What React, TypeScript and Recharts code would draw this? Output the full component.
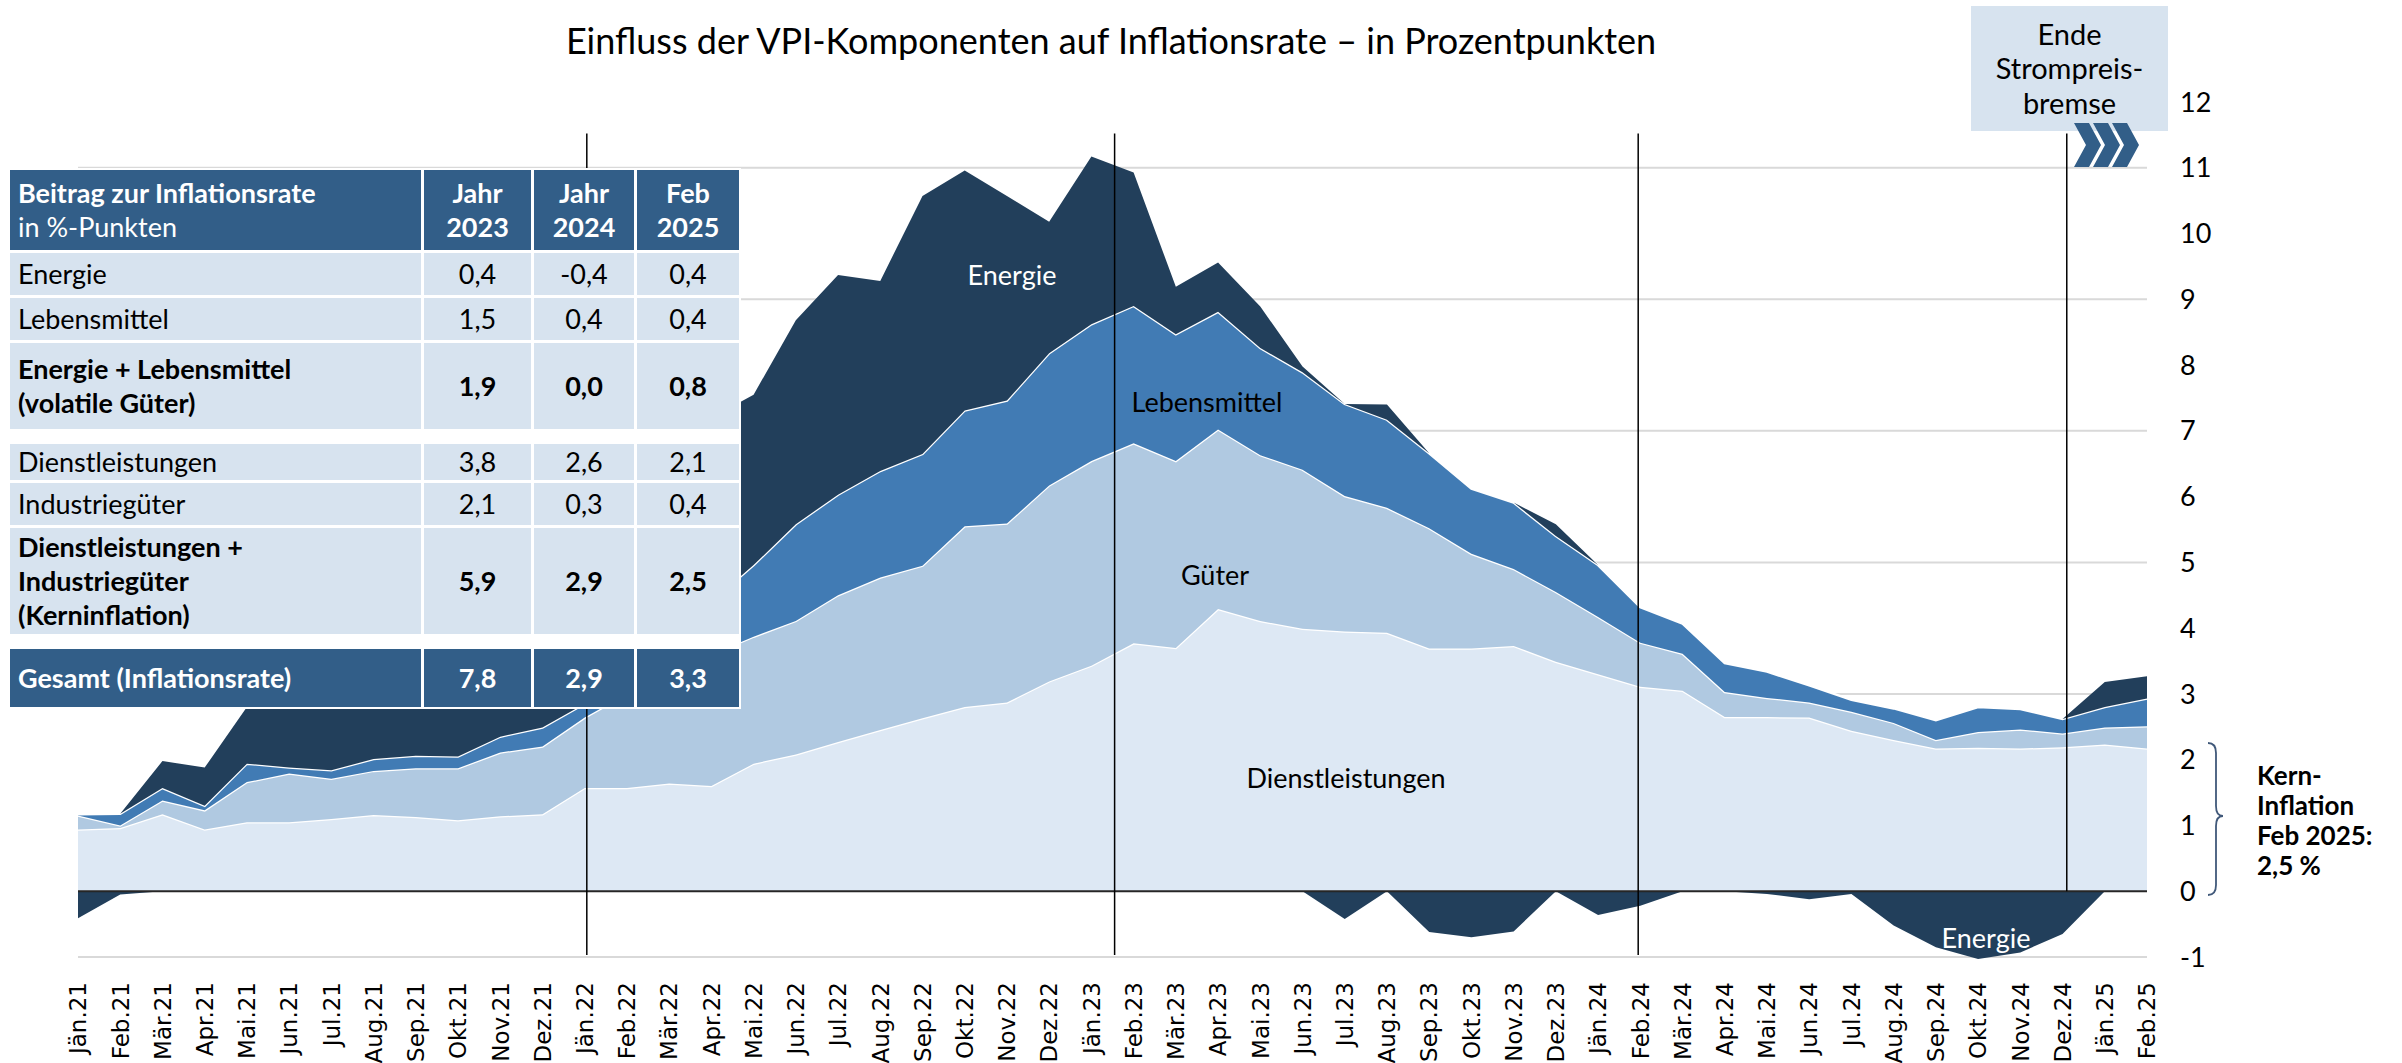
import { AreaChart, Area, XAxis, YAxis, CartesianGrid, ReferenceLine } from 'recharts'

// Beiträge der VPI-Komponenten zur Inflationsrate (Prozentpunkte), Jän.21 – Feb.25

const months = [
  'Jän.21', 'Feb.21', 'Mär.21', 'Apr.21', 'Mai.21', 'Jun.21', 'Jul.21', 'Aug.21', 'Sep.21', 'Okt.21', 'Nov.21', 'Dez.21',
  'Jän.22', 'Feb.22', 'Mär.22', 'Apr.22', 'Mai.22', 'Jun.22', 'Jul.22', 'Aug.22', 'Sep.22', 'Okt.22', 'Nov.22', 'Dez.22',
  'Jän.23', 'Feb.23', 'Mär.23', 'Apr.23', 'Mai.23', 'Jun.23', 'Jul.23', 'Aug.23', 'Sep.23', 'Okt.23', 'Nov.23', 'Dez.23',
  'Jän.24', 'Feb.24', 'Mär.24', 'Apr.24', 'Mai.24', 'Jun.24', 'Jul.24', 'Aug.24', 'Sep.24', 'Okt.24', 'Nov.24', 'Dez.24',
  'Jän.25', 'Feb.25',
]

const dienstleistungen = [
  0.94, 0.96, 1.17, 0.94, 1.05, 1.05, 1.1, 1.16, 1.13, 1.08, 1.14, 1.17,
  1.57, 1.57, 1.64, 1.6, 1.94, 2.08, 2.27, 2.45, 2.63, 2.8, 2.87, 3.19,
  3.43, 3.77, 3.7, 4.29, 4.11, 3.99, 3.95, 3.93, 3.69, 3.69, 3.73, 3.49,
  3.3, 3.11, 3.05, 2.65, 2.65, 2.64, 2.44, 2.3, 2.17, 2.18, 2.17, 2.19,
  2.23, 2.17,
]

const gueter = [
  0.21, 0.04, 0.21, 0.29, 0.61, 0.74, 0.61, 0.67, 0.74, 0.79, 0.97, 1.03,
  1.07, 1.43, 1.71, 2.0, 1.93, 2.03, 2.23, 2.32, 2.32, 2.75, 2.72, 2.98,
  3.11, 3.04, 2.84, 2.73, 2.52, 2.42, 2.06, 1.9, 1.83, 1.44, 1.17, 1.06,
  0.87, 0.67, 0.56, 0.38, 0.29, 0.23, 0.29, 0.26, 0.13, 0.24, 0.29, 0.21,
  0.26, 0.34,
]

const lebensmittel = [
  0.02, 0.18, 0.19, 0.07, 0.28, 0.09, 0.13, 0.18, 0.19, 0.18, 0.24, 0.29,
  0.21, 0.3, 0.55, 0.8, 1.09, 1.47, 1.53, 1.62, 1.7, 1.76, 1.87, 2.01,
  2.08, 2.09, 1.93, 1.79, 1.63, 1.48, 1.4, 1.34, 1.14, 0.99, 1.01, 0.85,
  0.79, 0.54, 0.46, 0.44, 0.4, 0.26, 0.18, 0.22, 0.3, 0.38, 0.31, 0.22,
  0.31, 0.42,
]

const energie = [
  -0.41, -0.05, 0.41, 0.58, 0.86, 0.92, 1.06, 1.19, 1.24, 1.65, 1.95, 1.81,
  2.15, 2.5, 2.9, 2.8, 2.59, 3.1, 3.34, 2.89, 3.92, 3.65, 3.11, 2.0,
  2.55, 2.03, 0.72, 0.75, 0.63, 0.09, -0.42, 0.23, -0.62, -0.7, -0.61, 0.18,
  -0.36, -0.22, 0.0, 0.0, -0.04, -0.12, -0.04, -0.52, -0.85, -1.03, -0.93, -0.65,
  0.38, 0.34,
]

const yTicks = [-1, 0, 1, 2, 3, 4, 5, 6, 7, 8, 9, 10, 11, 12]
const gridValues = [-1, 1, 3, 5, 7, 9, 11]
// senkrechte Markierungen (Monatsindex)
const markers = [12.05, 24.55, 36.95]
const strompreisMarker = 47.1

// Tabelle
const tableHeader = [['Jahr', '2023'], ['Jahr', '2024'], ['Feb', '2025']]
const rowLabels = [
  ['Energie'],
  ['Lebensmittel'],
  ['Energie + Lebensmittel', '(volatile Güter)'],
  ['Dienstleistungen'],
  ['Industriegüter'],
  ['Dienstleistungen +', 'Industriegüter', '(Kerninflation)'],
  ['Gesamt (Inflationsrate)'],
]
const jahr2023 = ['0,4', '1,5', '1,9', '3,8', '2,1', '5,9', '7,8']
const jahr2024 = ['-0,4', '0,4', '0,0', '2,6', '0,3', '2,9', '2,9']
const feb2025 = ['0,4', '0,4', '0,8', '2,1', '0,4', '2,5', '3,3']

const data = months.map((m, i) => ({
  i,
  month: m,
  dienst: dienstleistungen[i],
  gueter: gueter[i],
  lebens: lebensmittel[i],
  energiePos: Math.max(energie[i], 0),
  energieNeg: Math.min(energie[i], 0),
}))

const C = {
  dienst: '#DDE8F4',
  gueter: '#B0C9E1',
  lebens: '#417BB4',
  energie: '#223F5B',
  head: '#325E88',
  cell: '#D7E3EF',
}
const FONT = 'Lato, "Open Sans", sans-serif'

function MonthTick(props: any) {
  const { x, y, payload } = props
  return (
    <g transform={`translate(${x},${y})`}>
      <text transform="rotate(-90)" dy="0.36em" textAnchor="end" fontFamily="DejaVu Sans" fontSize={23} fill="#000">
        {months[payload.value]}
      </text>
    </g>
  )
}

// Zeilen-/Spaltengeometrie der Tabelle
const cols = [
  { x: 10, w: 411 },
  { x: 424, w: 107 },
  { x: 534, w: 100 },
  { x: 637, w: 102 },
]
const rows = [
  { y: 253, h: 42, bold: false, dark: false },
  { y: 298, h: 42, bold: false, dark: false },
  { y: 343, h: 86, bold: true, dark: false },
  { y: 444, h: 36, bold: false, dark: false },
  { y: 483, h: 42, bold: false, dark: false },
  { y: 528, h: 106, bold: true, dark: false },
  { y: 649, h: 58, bold: true, dark: true },
]

function Cell({ x, y, w, h, bg, color, bold, align, lines, size = 26 }: any) {
  return (
    <div
      style={{
        position: 'absolute', left: x, top: y, width: w, height: h, background: bg, color,
        fontWeight: bold ? 700 : 400, display: 'flex', flexDirection: 'column', justifyContent: 'center',
        alignItems: align === 'left' ? 'flex-start' : 'center', paddingLeft: align === 'left' ? 8 : 0,
        boxSizing: 'border-box', fontSize: size, lineHeight: '34px', whiteSpace: 'nowrap',
      }}
    >
      {lines.map((t: any, k: number) => (
        <div key={k} style={typeof t === 'object' ? t.style : undefined}>{typeof t === 'object' ? t.text : t}</div>
      ))}
    </div>
  )
}

function InfoTable() {
  const values = [jahr2023, jahr2024, feb2025]
  return (
    <div style={{ position: 'absolute', left: 0, top: 0, fontFamily: FONT }}>
      <div style={{ position: 'absolute', left: 8, top: 168, width: 733, height: 541, background: '#fff' }} />
      <Cell x={cols[0].x} y={170} w={cols[0].w} h={80} bg={C.head} color="#fff" bold align="left" size={27}
        lines={[{ text: 'Beitrag zur Inflationsrate', style: { fontWeight: 700 } }, { text: 'in %-Punkten', style: { fontWeight: 400 } }]} />
      {tableHeader.map((hd, c) => (
        <Cell key={c} x={cols[c + 1].x} y={170} w={cols[c + 1].w} h={80} bg={C.head} color="#fff" bold size={27} lines={hd} />
      ))}
      {rows.map((r, ri) => (
        <div key={ri}>
          <Cell x={cols[0].x} y={r.y} w={cols[0].w} h={r.h} bg={r.dark ? C.head : C.cell} color={r.dark ? '#fff' : '#000'}
            bold={r.bold} align="left" lines={rowLabels[ri]} size={27} />
          {values.map((v, c) => (
            <Cell key={c} x={cols[c + 1].x} y={r.y} w={cols[c + 1].w} h={r.h} bg={r.dark ? C.head : C.cell}
              color={r.dark ? '#fff' : '#000'} bold={r.bold} lines={[v[ri]]} size={27} />
          ))}
        </div>
      ))}
    </div>
  )
}

function Label({ x, y, text, color = '#000', size = 27 }: any) {
  return (
    <div style={{ position: 'absolute', left: x, top: y, transform: 'translate(-50%,-50%)', color, fontSize: size, fontFamily: FONT, whiteSpace: 'nowrap' }}>
      {text}
    </div>
  )
}

export default function App() {
  return (
    <div style={{ position: 'absolute', left: 0, top: 0, width: 2402, height: 1063, background: '#fff', overflow: 'hidden' }}>
      <AreaChart width={2402} height={1063} data={data} margin={{ top: 102, left: 78, right: 195, bottom: 14 }}>
        <CartesianGrid horizontalValues={gridValues} vertical={false} stroke="#D9D9D9" strokeWidth={2} />
        <XAxis type="number" dataKey="i" domain={[0, 49]} ticks={data.map(d => d.i)} interval={0}
          axisLine={false} tickLine={false} tickSize={0} tickMargin={23} height={90} tick={<MonthTick />} />
        <YAxis orientation="right" domain={[-1, 12]} ticks={yTicks} interval={0} width={60}
          axisLine={false} tickLine={false} tickSize={0} tickMargin={33}
          tick={{ fontSize: 27, fill: '#000', fontFamily: FONT }} />
        <Area type="linear" dataKey="dienst" stackId="pos" fill={C.dienst} fillOpacity={1} stroke="#fff" strokeWidth={2.5} dot={false} activeDot={false} isAnimationActive={false} />
        <Area type="linear" dataKey="gueter" stackId="pos" fill={C.gueter} fillOpacity={1} stroke="#fff" strokeWidth={2.5} dot={false} activeDot={false} isAnimationActive={false} />
        <Area type="linear" dataKey="lebens" stackId="pos" fill={C.lebens} fillOpacity={1} stroke="#fff" strokeWidth={2.5} dot={false} activeDot={false} isAnimationActive={false} />
        <Area type="linear" dataKey="energiePos" stackId="pos" fill={C.energie} fillOpacity={1} stroke="none" dot={false} activeDot={false} isAnimationActive={false} />
        <Area type="linear" dataKey="energieNeg" stackId="neg" fill={C.energie} fillOpacity={1} stroke="none" dot={false} activeDot={false} isAnimationActive={false} />
        <ReferenceLine y={0} stroke="#262626" strokeWidth={2} />
        {markers.map(m => (
          <ReferenceLine key={m} segment={[{ x: m, y: 11.52 }, { x: m, y: -0.97 }]} stroke="#000" strokeWidth={1.5} />
        ))}
        <ReferenceLine segment={[{ x: strompreisMarker, y: 11.52 }, { x: strompreisMarker, y: 0 }]} stroke="#000" strokeWidth={1.5} />
      </AreaChart>

      <Label x={1111} y={40} text="Einfluss der VPI-Komponenten auf Inflationsrate – in Prozentpunkten" size={36} />

      <Label x={1012} y={274} text="Energie" color="#fff" />
      <Label x={1207} y={401} text="Lebensmittel" />
      <Label x={1215} y={574} text="Güter" />
      <Label x={1346} y={777} text="Dienstleistungen" />
      <Label x={1986} y={937} text="Energie" color="#fff" />

      <InfoTable />

      <div style={{
        position: 'absolute', left: 1971, top: 6, width: 197, height: 125, background: C.cell, fontFamily: FONT,
        fontSize: 29, lineHeight: '34.5px', textAlign: 'center', display: 'flex', flexDirection: 'column', justifyContent: 'center',
      }}>
        <div>Ende</div>
        <div>Strompreis-</div>
        <div>bremse</div>
      </div>

      <svg width={2402} height={1063} style={{ position: 'absolute', left: 0, top: 0, pointerEvents: 'none' }}>
        {[0, 1, 2].map(k => {
          const x0 = 2074 + 19 * k
          return (
            <polygon key={k} fill={C.head}
              points={`${x0},123 ${x0 + 15},123 ${x0 + 27},145 ${x0 + 15},167 ${x0},167 ${x0 + 12},145`} />
          )
        })}
        <path d="M 2208 743 Q 2216 743 2216 753 L 2216 806 Q 2216 816 2223 816 Q 2216 816 2216 826 L 2216 885 Q 2216 895 2208 895"
          fill="none" stroke="#41597A" strokeWidth={1.8} />
      </svg>

      <div style={{ position: 'absolute', left: 2257, top: 760, fontFamily: FONT, fontWeight: 700, fontSize: 26, lineHeight: '30px' }}>
        <div>Kern-</div>
        <div>Inflation</div>
        <div>Feb 2025:</div>
        <div>2,5 %</div>
      </div>
    </div>
  )
}
